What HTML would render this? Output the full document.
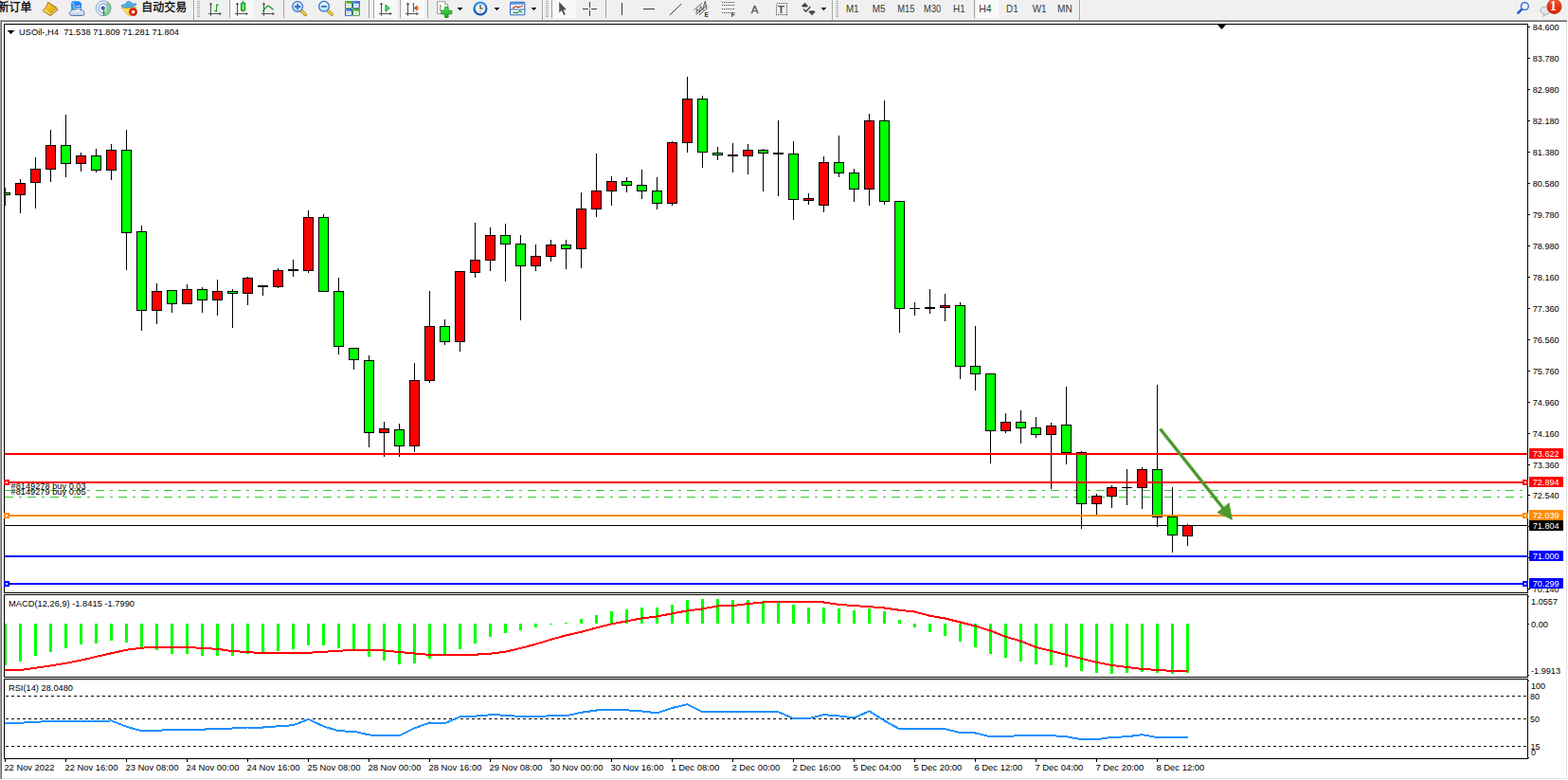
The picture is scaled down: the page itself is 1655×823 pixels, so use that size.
<!DOCTYPE html>
<html><head><meta charset="utf-8"><title>USOil H4</title>
<style>html,body{margin:0;padding:0;background:#fff;overflow:hidden}body{width:1655px;height:823px;position:relative;font-family:"Liberation Sans",sans-serif}</style>
</head><body>
<svg width="1655" height="823" viewBox="0 0 1655 823" style="position:absolute;left:0;top:0">
<defs><clipPath id="cm"><rect x="5" y="26" width="1607" height="599"/></clipPath><clipPath id="cd"><rect x="5" y="628" width="1607" height="86"/></clipPath><clipPath id="cr"><rect x="5" y="717" width="1607" height="83"/></clipPath></defs>
<rect x="0" y="0" width="1655" height="823" fill="#ffffff"/>
<rect x="0" y="0" width="1655" height="21" fill="#f0f0f0"/>
<rect x="0" y="20" width="1655" height="1" fill="#f5f5f5"/>
<g shape-rendering="crispEdges">
<rect x="0" y="21" width="1655" height="1" fill="#a0a0a0"/>
<rect x="0" y="21" width="1" height="802" fill="#a0a0a0"/>
<rect x="1" y="22" width="1654" height="1" fill="#696969"/>
<rect x="1" y="22" width="1" height="801" fill="#696969"/>
<rect x="2" y="821" width="1652" height="1" fill="#e3e3e3"/>
<rect x="1653" y="23" width="1" height="799" fill="#e3e3e3"/>
<rect x="1654" y="21" width="1" height="802" fill="#ffffff"/>
<rect x="0" y="822" width="1655" height="1" fill="#ffffff"/>
<rect x="4" y="25" width="1609" height="1" fill="#000"/>
<rect x="4" y="625" width="1609" height="1" fill="#000"/>
<rect x="4" y="25" width="1" height="601" fill="#000"/>
<rect x="4" y="627" width="1609" height="1" fill="#000"/>
<rect x="4" y="714" width="1609" height="1" fill="#000"/>
<rect x="4" y="627" width="1" height="88" fill="#000"/>
<rect x="4" y="716" width="1609" height="1" fill="#000"/>
<rect x="4" y="800" width="1609" height="1" fill="#000"/>
<rect x="4" y="716" width="1" height="85" fill="#000"/>
<rect x="1612" y="25" width="1" height="601" fill="#000"/>
<rect x="1612" y="627" width="1" height="88" fill="#000"/>
<rect x="1612" y="716" width="1" height="85" fill="#000"/>
<rect x="1613" y="28" width="2" height="1" fill="#000"/>
<rect x="1613" y="61" width="2" height="1" fill="#000"/>
<rect x="1613" y="94" width="2" height="1" fill="#000"/>
<rect x="1613" y="127" width="2" height="1" fill="#000"/>
<rect x="1613" y="160" width="2" height="1" fill="#000"/>
<rect x="1613" y="193" width="2" height="1" fill="#000"/>
<rect x="1613" y="226" width="2" height="1" fill="#000"/>
<rect x="1613" y="259" width="2" height="1" fill="#000"/>
<rect x="1613" y="292" width="2" height="1" fill="#000"/>
<rect x="1613" y="325" width="2" height="1" fill="#000"/>
<rect x="1613" y="358" width="2" height="1" fill="#000"/>
<rect x="1613" y="391" width="2" height="1" fill="#000"/>
<rect x="1613" y="424" width="2" height="1" fill="#000"/>
<rect x="1613" y="457" width="2" height="1" fill="#000"/>
<rect x="1613" y="490" width="2" height="1" fill="#000"/>
<rect x="1613" y="522" width="2" height="1" fill="#000"/>
<rect x="1613" y="555" width="2" height="1" fill="#000"/>
<rect x="1613" y="588" width="2" height="1" fill="#000"/>
<rect x="1613" y="621" width="2" height="1" fill="#000"/>
<rect x="1613" y="629" width="1" height="1" fill="#000"/>
<rect x="1613" y="658" width="1" height="1" fill="#000"/>
<rect x="1613" y="712" width="1" height="1" fill="#000"/>
<rect x="1613" y="718" width="1" height="1" fill="#000"/>
<rect x="1613" y="799" width="1" height="1" fill="#000"/>
<rect x="5" y="801" width="1" height="3" fill="#000"/>
<rect x="69" y="801" width="1" height="3" fill="#000"/>
<rect x="133" y="801" width="1" height="3" fill="#000"/>
<rect x="197" y="801" width="1" height="3" fill="#000"/>
<rect x="261" y="801" width="1" height="3" fill="#000"/>
<rect x="325" y="801" width="1" height="3" fill="#000"/>
<rect x="389" y="801" width="1" height="3" fill="#000"/>
<rect x="453" y="801" width="1" height="3" fill="#000"/>
<rect x="517" y="801" width="1" height="3" fill="#000"/>
<rect x="581" y="801" width="1" height="3" fill="#000"/>
<rect x="645" y="801" width="1" height="3" fill="#000"/>
<rect x="709" y="801" width="1" height="3" fill="#000"/>
<rect x="773" y="801" width="1" height="3" fill="#000"/>
<rect x="837" y="801" width="1" height="3" fill="#000"/>
<rect x="901" y="801" width="1" height="3" fill="#000"/>
<rect x="965" y="801" width="1" height="3" fill="#000"/>
<rect x="1029" y="801" width="1" height="3" fill="#000"/>
<rect x="1093" y="801" width="1" height="3" fill="#000"/>
<rect x="1157" y="801" width="1" height="3" fill="#000"/>
<rect x="1221" y="801" width="1" height="3" fill="#000"/>
</g>
<g clip-path="url(#cm)" shape-rendering="crispEdges">
<rect x="5" y="554" width="1607" height="1" fill="#000"/>
<line x1="5" y1="517.5" x2="1608" y2="517.5" stroke="#32cd32" stroke-width="1" stroke-dasharray="9 6 3 6"/>
<line x1="5" y1="524.5" x2="1608" y2="524.5" stroke="#32cd32" stroke-width="1" stroke-dasharray="9 6 3 6"/>
<rect x="5" y="198" width="1" height="19" fill="#000"/>
<rect x="0" y="203" width="11" height="3" fill="#000"/>
<rect x="1" y="204" width="9" height="1" fill="#00ff00"/>
<rect x="21" y="189" width="1" height="36" fill="#000"/>
<rect x="16" y="193" width="11" height="13" fill="#000"/>
<rect x="17" y="194" width="9" height="11" fill="#ff0000"/>
<rect x="37" y="166" width="1" height="54" fill="#000"/>
<rect x="32" y="178" width="11" height="15" fill="#000"/>
<rect x="33" y="179" width="9" height="13" fill="#ff0000"/>
<rect x="53" y="137" width="1" height="55" fill="#000"/>
<rect x="48" y="153" width="11" height="26" fill="#000"/>
<rect x="49" y="154" width="9" height="24" fill="#ff0000"/>
<rect x="69" y="121" width="1" height="66" fill="#000"/>
<rect x="64" y="153" width="11" height="20" fill="#000"/>
<rect x="65" y="154" width="9" height="18" fill="#00ff00"/>
<rect x="85" y="161" width="1" height="20" fill="#000"/>
<rect x="80" y="164" width="11" height="9" fill="#000"/>
<rect x="81" y="165" width="9" height="7" fill="#ff0000"/>
<rect x="101" y="157" width="1" height="25" fill="#000"/>
<rect x="96" y="164" width="11" height="16" fill="#000"/>
<rect x="97" y="165" width="9" height="14" fill="#00ff00"/>
<rect x="117" y="152" width="1" height="38" fill="#000"/>
<rect x="112" y="158" width="11" height="22" fill="#000"/>
<rect x="113" y="159" width="9" height="20" fill="#ff0000"/>
<rect x="133" y="137" width="1" height="148" fill="#000"/>
<rect x="128" y="158" width="11" height="88" fill="#000"/>
<rect x="129" y="159" width="9" height="86" fill="#00ff00"/>
<rect x="149" y="238" width="1" height="111" fill="#000"/>
<rect x="144" y="244" width="11" height="84" fill="#000"/>
<rect x="145" y="245" width="9" height="82" fill="#00ff00"/>
<rect x="165" y="299" width="1" height="43" fill="#000"/>
<rect x="160" y="307" width="11" height="21" fill="#000"/>
<rect x="161" y="308" width="9" height="19" fill="#ff0000"/>
<rect x="181" y="306" width="1" height="24" fill="#000"/>
<rect x="176" y="306" width="11" height="15" fill="#000"/>
<rect x="177" y="307" width="9" height="13" fill="#00ff00"/>
<rect x="197" y="300" width="1" height="21" fill="#000"/>
<rect x="192" y="305" width="11" height="16" fill="#000"/>
<rect x="193" y="306" width="9" height="14" fill="#ff0000"/>
<rect x="213" y="303" width="1" height="27" fill="#000"/>
<rect x="208" y="305" width="11" height="12" fill="#000"/>
<rect x="209" y="306" width="9" height="10" fill="#00ff00"/>
<rect x="229" y="295" width="1" height="38" fill="#000"/>
<rect x="224" y="307" width="11" height="10" fill="#000"/>
<rect x="225" y="308" width="9" height="8" fill="#ff0000"/>
<rect x="245" y="305" width="1" height="41" fill="#000"/>
<rect x="240" y="307" width="11" height="3" fill="#000"/>
<rect x="241" y="308" width="9" height="1" fill="#00ff00"/>
<rect x="261" y="292" width="1" height="30" fill="#000"/>
<rect x="256" y="293" width="11" height="17" fill="#000"/>
<rect x="257" y="294" width="9" height="15" fill="#ff0000"/>
<rect x="277" y="301" width="1" height="11" fill="#000"/>
<rect x="272" y="301" width="11" height="2" fill="#000"/>
<rect x="293" y="283" width="1" height="21" fill="#000"/>
<rect x="288" y="285" width="11" height="18" fill="#000"/>
<rect x="289" y="286" width="9" height="16" fill="#ff0000"/>
<rect x="309" y="274" width="1" height="18" fill="#000"/>
<rect x="304" y="284" width="11" height="2" fill="#000"/>
<rect x="325" y="222" width="1" height="66" fill="#000"/>
<rect x="320" y="229" width="11" height="57" fill="#000"/>
<rect x="321" y="230" width="9" height="55" fill="#ff0000"/>
<rect x="341" y="226" width="1" height="82" fill="#000"/>
<rect x="336" y="229" width="11" height="79" fill="#000"/>
<rect x="337" y="230" width="9" height="77" fill="#00ff00"/>
<rect x="357" y="293" width="1" height="81" fill="#000"/>
<rect x="352" y="307" width="11" height="59" fill="#000"/>
<rect x="353" y="308" width="9" height="57" fill="#00ff00"/>
<rect x="373" y="367" width="1" height="23" fill="#000"/>
<rect x="368" y="367" width="11" height="13" fill="#000"/>
<rect x="369" y="368" width="9" height="11" fill="#00ff00"/>
<rect x="389" y="375" width="1" height="97" fill="#000"/>
<rect x="384" y="380" width="11" height="77" fill="#000"/>
<rect x="385" y="381" width="9" height="75" fill="#00ff00"/>
<rect x="405" y="445" width="1" height="37" fill="#000"/>
<rect x="400" y="452" width="11" height="5" fill="#000"/>
<rect x="401" y="453" width="9" height="3" fill="#ff0000"/>
<rect x="421" y="447" width="1" height="35" fill="#000"/>
<rect x="416" y="453" width="11" height="18" fill="#000"/>
<rect x="417" y="454" width="9" height="16" fill="#00ff00"/>
<rect x="437" y="383" width="1" height="94" fill="#000"/>
<rect x="432" y="401" width="11" height="70" fill="#000"/>
<rect x="433" y="402" width="9" height="68" fill="#ff0000"/>
<rect x="453" y="307" width="1" height="97" fill="#000"/>
<rect x="448" y="344" width="11" height="58" fill="#000"/>
<rect x="449" y="345" width="9" height="56" fill="#ff0000"/>
<rect x="469" y="337" width="1" height="27" fill="#000"/>
<rect x="464" y="344" width="11" height="17" fill="#000"/>
<rect x="465" y="345" width="9" height="15" fill="#00ff00"/>
<rect x="485" y="286" width="1" height="85" fill="#000"/>
<rect x="480" y="286" width="11" height="75" fill="#000"/>
<rect x="481" y="287" width="9" height="73" fill="#ff0000"/>
<rect x="501" y="235" width="1" height="58" fill="#000"/>
<rect x="496" y="274" width="11" height="14" fill="#000"/>
<rect x="497" y="275" width="9" height="12" fill="#ff0000"/>
<rect x="517" y="240" width="1" height="46" fill="#000"/>
<rect x="512" y="248" width="11" height="27" fill="#000"/>
<rect x="513" y="249" width="9" height="25" fill="#ff0000"/>
<rect x="533" y="236" width="1" height="61" fill="#000"/>
<rect x="528" y="248" width="11" height="10" fill="#000"/>
<rect x="529" y="249" width="9" height="8" fill="#00ff00"/>
<rect x="549" y="248" width="1" height="90" fill="#000"/>
<rect x="544" y="257" width="11" height="24" fill="#000"/>
<rect x="545" y="258" width="9" height="22" fill="#00ff00"/>
<rect x="565" y="258" width="1" height="28" fill="#000"/>
<rect x="560" y="270" width="11" height="11" fill="#000"/>
<rect x="561" y="271" width="9" height="9" fill="#ff0000"/>
<rect x="581" y="253" width="1" height="23" fill="#000"/>
<rect x="576" y="258" width="11" height="13" fill="#000"/>
<rect x="577" y="259" width="9" height="11" fill="#ff0000"/>
<rect x="597" y="253" width="1" height="31" fill="#000"/>
<rect x="592" y="258" width="11" height="5" fill="#000"/>
<rect x="593" y="259" width="9" height="3" fill="#00ff00"/>
<rect x="613" y="203" width="1" height="80" fill="#000"/>
<rect x="608" y="220" width="11" height="43" fill="#000"/>
<rect x="609" y="221" width="9" height="41" fill="#ff0000"/>
<rect x="629" y="162" width="1" height="67" fill="#000"/>
<rect x="624" y="201" width="11" height="20" fill="#000"/>
<rect x="625" y="202" width="9" height="18" fill="#ff0000"/>
<rect x="645" y="186" width="1" height="31" fill="#000"/>
<rect x="640" y="191" width="11" height="11" fill="#000"/>
<rect x="641" y="192" width="9" height="9" fill="#ff0000"/>
<rect x="661" y="187" width="1" height="16" fill="#000"/>
<rect x="656" y="191" width="11" height="5" fill="#000"/>
<rect x="657" y="192" width="9" height="3" fill="#00ff00"/>
<rect x="677" y="179" width="1" height="31" fill="#000"/>
<rect x="672" y="195" width="11" height="7" fill="#000"/>
<rect x="673" y="196" width="9" height="5" fill="#00ff00"/>
<rect x="693" y="187" width="1" height="34" fill="#000"/>
<rect x="688" y="201" width="11" height="14" fill="#000"/>
<rect x="689" y="202" width="9" height="12" fill="#00ff00"/>
<rect x="709" y="149" width="1" height="68" fill="#000"/>
<rect x="704" y="150" width="11" height="65" fill="#000"/>
<rect x="705" y="151" width="9" height="63" fill="#ff0000"/>
<rect x="725" y="81" width="1" height="80" fill="#000"/>
<rect x="720" y="104" width="11" height="47" fill="#000"/>
<rect x="721" y="105" width="9" height="45" fill="#ff0000"/>
<rect x="741" y="101" width="1" height="76" fill="#000"/>
<rect x="736" y="104" width="11" height="57" fill="#000"/>
<rect x="737" y="105" width="9" height="55" fill="#00ff00"/>
<rect x="757" y="155" width="1" height="14" fill="#000"/>
<rect x="752" y="161" width="11" height="3" fill="#000"/>
<rect x="753" y="162" width="9" height="1" fill="#00ff00"/>
<rect x="773" y="151" width="1" height="31" fill="#000"/>
<rect x="768" y="163" width="11" height="2" fill="#000"/>
<rect x="789" y="152" width="1" height="32" fill="#000"/>
<rect x="784" y="158" width="11" height="7" fill="#000"/>
<rect x="785" y="159" width="9" height="5" fill="#ff0000"/>
<rect x="805" y="157" width="1" height="45" fill="#000"/>
<rect x="800" y="158" width="11" height="4" fill="#000"/>
<rect x="801" y="159" width="9" height="2" fill="#00ff00"/>
<rect x="821" y="127" width="1" height="80" fill="#000"/>
<rect x="816" y="161" width="11" height="2" fill="#000"/>
<rect x="837" y="149" width="1" height="83" fill="#000"/>
<rect x="832" y="162" width="11" height="49" fill="#000"/>
<rect x="833" y="163" width="9" height="47" fill="#00ff00"/>
<rect x="853" y="204" width="1" height="12" fill="#000"/>
<rect x="848" y="209" width="11" height="3" fill="#000"/>
<rect x="849" y="210" width="9" height="1" fill="#ff0000"/>
<rect x="869" y="165" width="1" height="59" fill="#000"/>
<rect x="864" y="171" width="11" height="46" fill="#000"/>
<rect x="865" y="172" width="9" height="44" fill="#ff0000"/>
<rect x="885" y="143" width="1" height="44" fill="#000"/>
<rect x="880" y="171" width="11" height="12" fill="#000"/>
<rect x="881" y="172" width="9" height="10" fill="#00ff00"/>
<rect x="901" y="178" width="1" height="35" fill="#000"/>
<rect x="896" y="182" width="11" height="18" fill="#000"/>
<rect x="897" y="183" width="9" height="16" fill="#00ff00"/>
<rect x="917" y="120" width="1" height="97" fill="#000"/>
<rect x="912" y="127" width="11" height="73" fill="#000"/>
<rect x="913" y="128" width="9" height="71" fill="#ff0000"/>
<rect x="933" y="106" width="1" height="110" fill="#000"/>
<rect x="928" y="127" width="11" height="86" fill="#000"/>
<rect x="929" y="128" width="9" height="84" fill="#00ff00"/>
<rect x="949" y="212" width="1" height="139" fill="#000"/>
<rect x="944" y="212" width="11" height="114" fill="#000"/>
<rect x="945" y="213" width="9" height="112" fill="#00ff00"/>
<rect x="965" y="319" width="1" height="14" fill="#000"/>
<rect x="960" y="325" width="11" height="1" fill="#000"/>
<rect x="981" y="305" width="1" height="26" fill="#000"/>
<rect x="976" y="324" width="11" height="2" fill="#000"/>
<rect x="997" y="310" width="1" height="29" fill="#000"/>
<rect x="992" y="322" width="11" height="3" fill="#000"/>
<rect x="993" y="323" width="9" height="1" fill="#ff0000"/>
<rect x="1013" y="319" width="1" height="81" fill="#000"/>
<rect x="1008" y="322" width="11" height="65" fill="#000"/>
<rect x="1009" y="323" width="9" height="63" fill="#00ff00"/>
<rect x="1029" y="344" width="1" height="68" fill="#000"/>
<rect x="1024" y="386" width="11" height="9" fill="#000"/>
<rect x="1025" y="387" width="9" height="7" fill="#00ff00"/>
<rect x="1045" y="394" width="1" height="95" fill="#000"/>
<rect x="1040" y="394" width="11" height="61" fill="#000"/>
<rect x="1041" y="395" width="9" height="59" fill="#00ff00"/>
<rect x="1061" y="436" width="1" height="21" fill="#000"/>
<rect x="1056" y="445" width="11" height="10" fill="#000"/>
<rect x="1057" y="446" width="9" height="8" fill="#ff0000"/>
<rect x="1077" y="433" width="1" height="35" fill="#000"/>
<rect x="1072" y="445" width="11" height="7" fill="#000"/>
<rect x="1073" y="446" width="9" height="5" fill="#00ff00"/>
<rect x="1093" y="440" width="1" height="22" fill="#000"/>
<rect x="1088" y="451" width="11" height="8" fill="#000"/>
<rect x="1089" y="452" width="9" height="6" fill="#00ff00"/>
<rect x="1109" y="446" width="1" height="70" fill="#000"/>
<rect x="1104" y="449" width="11" height="10" fill="#000"/>
<rect x="1105" y="450" width="9" height="8" fill="#ff0000"/>
<rect x="1125" y="408" width="1" height="82" fill="#000"/>
<rect x="1120" y="448" width="11" height="30" fill="#000"/>
<rect x="1121" y="449" width="9" height="28" fill="#00ff00"/>
<rect x="1141" y="476" width="1" height="82" fill="#000"/>
<rect x="1136" y="477" width="11" height="55" fill="#000"/>
<rect x="1137" y="478" width="9" height="53" fill="#00ff00"/>
<rect x="1157" y="521" width="1" height="22" fill="#000"/>
<rect x="1152" y="523" width="11" height="9" fill="#000"/>
<rect x="1153" y="524" width="9" height="7" fill="#ff0000"/>
<rect x="1173" y="512" width="1" height="24" fill="#000"/>
<rect x="1168" y="514" width="11" height="10" fill="#000"/>
<rect x="1169" y="515" width="9" height="8" fill="#ff0000"/>
<rect x="1189" y="495" width="1" height="38" fill="#000"/>
<rect x="1184" y="514" width="11" height="1" fill="#000"/>
<rect x="1205" y="493" width="1" height="44" fill="#000"/>
<rect x="1200" y="495" width="11" height="20" fill="#000"/>
<rect x="1201" y="496" width="9" height="18" fill="#ff0000"/>
<rect x="1221" y="406" width="1" height="150" fill="#000"/>
<rect x="1216" y="495" width="11" height="51" fill="#000"/>
<rect x="1217" y="496" width="9" height="49" fill="#00ff00"/>
<rect x="1237" y="514" width="1" height="69" fill="#000"/>
<rect x="1232" y="545" width="11" height="20" fill="#000"/>
<rect x="1233" y="546" width="9" height="18" fill="#00ff00"/>
<rect x="1253" y="553" width="1" height="23" fill="#000"/>
<rect x="1248" y="554" width="11" height="12" fill="#000"/>
<rect x="1249" y="555" width="9" height="10" fill="#ff0000"/>
<rect x="5" y="478" width="1607" height="2" fill="#ff0000"/>
<rect x="5" y="508" width="1607" height="2" fill="#ff0000"/>
<rect x="5" y="543" width="1607" height="2" fill="#ff8c00"/>
<rect x="5" y="586" width="1607" height="2" fill="#0000ff"/>
<rect x="5" y="615" width="1607" height="2" fill="#0000ff"/>
</g>
<g shape-rendering="crispEdges">
<rect x="4" y="506" width="6" height="6" fill="#ff0000"/><rect x="6" y="508" width="2" height="2" fill="#fff"/>
<rect x="1607" y="506" width="6" height="6" fill="#ff0000"/><rect x="1609" y="508" width="2" height="2" fill="#fff"/>
<rect x="4" y="541" width="6" height="6" fill="#ff8c00"/><rect x="6" y="543" width="2" height="2" fill="#fff"/>
<rect x="1607" y="541" width="6" height="6" fill="#ff8c00"/><rect x="1609" y="543" width="2" height="2" fill="#fff"/>
<rect x="4" y="613" width="6" height="6" fill="#0000ff"/><rect x="6" y="615" width="2" height="2" fill="#fff"/>
<rect x="1607" y="613" width="6" height="6" fill="#0000ff"/><rect x="1609" y="615" width="2" height="2" fill="#fff"/>
</g>
<g clip-path="url(#cm)">
<line x1="1224.5" y1="452.5" x2="1292" y2="537.5" stroke="#4e9a2e" stroke-width="3.4"/>
<polygon points="1301,549 1284.3,540.8 1297.5,530.2" fill="#4e9a2e"/>
</g>
<g font-family="Liberation Sans, sans-serif" font-size="9.7" fill="#000">
<text x="11.6" y="515.6" textLength="79" lengthAdjust="spacingAndGlyphs" xml:space="preserve">#8149278 buy 0.03</text>
<text x="11.6" y="522" textLength="79" lengthAdjust="spacingAndGlyphs" xml:space="preserve">#8149279 buy 0.05</text>
</g>
<polygon points="8,32 15,32 11.5,36" fill="#000" shape-rendering="crispEdges"/>
<g font-family="Liberation Sans, sans-serif" font-size="9.7" fill="#000"><text x="20" y="37" textLength="169" lengthAdjust="spacingAndGlyphs" xml:space="preserve">USOil-,H4  71.538 71.809 71.281 71.804</text></g>
<polygon points="1285,26 1294,26 1289.5,31" fill="#000"/>
<g clip-path="url(#cd)">
<g shape-rendering="crispEdges">
<rect x="4" y="658" width="3" height="44" fill="#00ff00"/>
<rect x="20" y="658" width="3" height="40" fill="#00ff00"/>
<rect x="36" y="658" width="3" height="34" fill="#00ff00"/>
<rect x="52" y="658" width="3" height="30" fill="#00ff00"/>
<rect x="68" y="658" width="3" height="26" fill="#00ff00"/>
<rect x="84" y="658" width="3" height="22" fill="#00ff00"/>
<rect x="100" y="658" width="3" height="21" fill="#00ff00"/>
<rect x="116" y="658" width="3" height="18" fill="#00ff00"/>
<rect x="132" y="658" width="3" height="20" fill="#00ff00"/>
<rect x="148" y="658" width="3" height="25" fill="#00ff00"/>
<rect x="164" y="658" width="3" height="28" fill="#00ff00"/>
<rect x="180" y="658" width="3" height="32" fill="#00ff00"/>
<rect x="196" y="658" width="3" height="32" fill="#00ff00"/>
<rect x="212" y="658" width="3" height="34" fill="#00ff00"/>
<rect x="228" y="658" width="3" height="34" fill="#00ff00"/>
<rect x="244" y="658" width="3" height="34" fill="#00ff00"/>
<rect x="260" y="658" width="3" height="32" fill="#00ff00"/>
<rect x="276" y="658" width="3" height="30" fill="#00ff00"/>
<rect x="292" y="658" width="3" height="29" fill="#00ff00"/>
<rect x="308" y="658" width="3" height="27" fill="#00ff00"/>
<rect x="324" y="658" width="3" height="23" fill="#00ff00"/>
<rect x="340" y="658" width="3" height="23" fill="#00ff00"/>
<rect x="356" y="658" width="3" height="26" fill="#00ff00"/>
<rect x="372" y="658" width="3" height="29" fill="#00ff00"/>
<rect x="388" y="658" width="3" height="35" fill="#00ff00"/>
<rect x="404" y="658" width="3" height="39" fill="#00ff00"/>
<rect x="420" y="658" width="3" height="43" fill="#00ff00"/>
<rect x="436" y="658" width="3" height="42" fill="#00ff00"/>
<rect x="452" y="658" width="3" height="37" fill="#00ff00"/>
<rect x="468" y="658" width="3" height="32" fill="#00ff00"/>
<rect x="484" y="658" width="3" height="27" fill="#00ff00"/>
<rect x="500" y="658" width="3" height="21" fill="#00ff00"/>
<rect x="516" y="658" width="3" height="14" fill="#00ff00"/>
<rect x="532" y="658" width="3" height="10" fill="#00ff00"/>
<rect x="548" y="658" width="3" height="7" fill="#00ff00"/>
<rect x="564" y="658" width="3" height="4" fill="#00ff00"/>
<rect x="580" y="658" width="3" height="1" fill="#00ff00"/>
<rect x="596" y="657" width="3" height="1" fill="#00ff00"/>
<rect x="612" y="653" width="3" height="5" fill="#00ff00"/>
<rect x="628" y="649" width="3" height="9" fill="#00ff00"/>
<rect x="644" y="645" width="3" height="13" fill="#00ff00"/>
<rect x="660" y="643" width="3" height="15" fill="#00ff00"/>
<rect x="676" y="641" width="3" height="17" fill="#00ff00"/>
<rect x="692" y="641" width="3" height="17" fill="#00ff00"/>
<rect x="708" y="638" width="3" height="20" fill="#00ff00"/>
<rect x="724" y="633" width="3" height="25" fill="#00ff00"/>
<rect x="740" y="632" width="3" height="26" fill="#00ff00"/>
<rect x="756" y="632" width="3" height="26" fill="#00ff00"/>
<rect x="772" y="633" width="3" height="25" fill="#00ff00"/>
<rect x="788" y="633" width="3" height="25" fill="#00ff00"/>
<rect x="804" y="634" width="3" height="24" fill="#00ff00"/>
<rect x="820" y="635" width="3" height="23" fill="#00ff00"/>
<rect x="836" y="638" width="3" height="20" fill="#00ff00"/>
<rect x="852" y="641" width="3" height="17" fill="#00ff00"/>
<rect x="868" y="641" width="3" height="17" fill="#00ff00"/>
<rect x="884" y="642" width="3" height="16" fill="#00ff00"/>
<rect x="900" y="644" width="3" height="14" fill="#00ff00"/>
<rect x="916" y="642" width="3" height="16" fill="#00ff00"/>
<rect x="932" y="645" width="3" height="13" fill="#00ff00"/>
<rect x="948" y="654" width="3" height="4" fill="#00ff00"/>
<rect x="964" y="658" width="3" height="4" fill="#00ff00"/>
<rect x="980" y="658" width="3" height="9" fill="#00ff00"/>
<rect x="996" y="658" width="3" height="13" fill="#00ff00"/>
<rect x="1012" y="658" width="3" height="19" fill="#00ff00"/>
<rect x="1028" y="658" width="3" height="25" fill="#00ff00"/>
<rect x="1044" y="658" width="3" height="32" fill="#00ff00"/>
<rect x="1060" y="658" width="3" height="36" fill="#00ff00"/>
<rect x="1076" y="658" width="3" height="40" fill="#00ff00"/>
<rect x="1092" y="658" width="3" height="43" fill="#00ff00"/>
<rect x="1108" y="658" width="3" height="44" fill="#00ff00"/>
<rect x="1124" y="658" width="3" height="46" fill="#00ff00"/>
<rect x="1140" y="658" width="3" height="50" fill="#00ff00"/>
<rect x="1156" y="658" width="3" height="52" fill="#00ff00"/>
<rect x="1172" y="658" width="3" height="53" fill="#00ff00"/>
<rect x="1188" y="658" width="3" height="52" fill="#00ff00"/>
<rect x="1204" y="658" width="3" height="51" fill="#00ff00"/>
<rect x="1220" y="658" width="3" height="52" fill="#00ff00"/>
<rect x="1236" y="658" width="3" height="53" fill="#00ff00"/>
<rect x="1252" y="658" width="3" height="52" fill="#00ff00"/>
</g>
<polyline points="5.5,707.5 21.5,707.1 37.5,704.7 53.5,702.4 69.5,699.8 85.5,696.7 101.5,692.9 117.5,689.3 133.5,685.7 149.5,683.7 165.5,682.6 181.5,682.6 197.5,683.0 213.5,683.9 229.5,684.8 245.5,687.1 261.5,688.0 277.5,689.3 293.5,689.3 309.5,689.3 325.5,688.8 341.5,687.8 357.5,686.8 373.5,685.8 389.5,685.5 405.5,686.5 421.5,688.0 437.5,689.5 453.5,690.9 469.5,690.9 485.5,690.9 501.5,690.7 517.5,689.7 533.5,687.7 549.5,683.9 565.5,679.7 581.5,674.8 597.5,670.4 613.5,666.8 629.5,662.4 645.5,658.4 661.5,655.4 677.5,652.4 693.5,650.4 709.5,647.4 725.5,644.4 741.5,642.4 757.5,639.5 773.5,639.1 789.5,637.1 805.5,635.5 821.5,634.5 837.5,634.5 853.5,634.5 869.5,635.5 885.5,637.9 901.5,639.1 917.5,640.1 933.5,641.5 949.5,643.8 965.5,645.5 981.5,649.8 997.5,652.5 1013.5,656.5 1029.5,660.5 1045.5,665.5 1061.5,671.8 1077.5,676.5 1093.5,682.9 1109.5,686.9 1125.5,690.9 1141.5,694.9 1157.5,698.9 1173.5,701.9 1189.5,703.9 1205.5,705.9 1221.5,706.9 1237.5,707.9 1253.5,708.3" fill="none" stroke="#ff0000" stroke-width="2" stroke-linejoin="round" shape-rendering="crispEdges"/>
</g>
<g font-family="Liberation Sans, sans-serif" font-size="9.7" fill="#000"><text x="9" y="640" textLength="133" lengthAdjust="spacingAndGlyphs" xml:space="preserve">MACD(12,26,9) -1.8415 -1.7990</text></g>
<g clip-path="url(#cr)">
<line x1="6" y1="734.5" x2="1612" y2="734.5" stroke="#000" stroke-width="1" stroke-dasharray="3 3" shape-rendering="crispEdges"/>
<line x1="6" y1="758.5" x2="1612" y2="758.5" stroke="#000" stroke-width="1" stroke-dasharray="3 3" shape-rendering="crispEdges"/>
<line x1="6" y1="787.5" x2="1612" y2="787.5" stroke="#000" stroke-width="1" stroke-dasharray="3 3" shape-rendering="crispEdges"/>
<polyline points="5.5,763.2 21.5,762.7 37.5,761.9 53.5,760.7 69.5,760.7 85.5,761.2 101.5,761.4 117.5,760.4 133.5,766.8 149.5,771.3 165.5,770.6 181.5,770.3 197.5,769.6 213.5,769.6 229.5,769.1 245.5,768.5 261.5,767.5 277.5,767.5 293.5,766.3 309.5,765.2 325.5,758.9 341.5,766.3 357.5,771.3 373.5,771.8 389.5,775.4 405.5,776.4 421.5,776.4 437.5,768.3 453.5,762.5 469.5,763.2 485.5,756.4 501.5,755.6 517.5,754.3 533.5,754.6 549.5,756.1 565.5,756.1 581.5,755.3 597.5,755.3 613.5,751.8 629.5,749.5 645.5,749.3 661.5,749.3 677.5,750.5 693.5,752.3 709.5,747.0 725.5,743.2 741.5,751.3 757.5,751.3 773.5,751.3 789.5,751.3 805.5,751.2 821.5,751.2 837.5,758.1 853.5,758.1 869.5,754.1 885.5,755.5 901.5,757.5 917.5,750.3 933.5,760.5 949.5,769.2 965.5,769.2 981.5,769.2 997.5,769.2 1013.5,773.2 1029.5,773.5 1045.5,777.3 1061.5,777.0 1077.5,776.1 1093.5,776.1 1109.5,776.1 1125.5,777.3 1141.5,780.2 1157.5,780.2 1173.5,777.9 1189.5,777.3 1205.5,775.2 1221.5,778.1 1237.5,778.1 1253.5,778.1" fill="none" stroke="#1e90ff" stroke-width="2" stroke-linejoin="round" shape-rendering="crispEdges"/>
</g>
<g font-family="Liberation Sans, sans-serif" font-size="9.7" fill="#000"><text x="9" y="729" textLength="68" lengthAdjust="spacingAndGlyphs" xml:space="preserve">RSI(14) 28.0480</text></g>
<g font-family="Liberation Sans, sans-serif" font-size="9.7" fill="#000">
<text x="1617.7" y="32" textLength="28" lengthAdjust="spacingAndGlyphs" xml:space="preserve">84.600</text>
<text x="1617.7" y="65" textLength="28" lengthAdjust="spacingAndGlyphs" xml:space="preserve">83.780</text>
<text x="1617.7" y="98" textLength="28" lengthAdjust="spacingAndGlyphs" xml:space="preserve">82.980</text>
<text x="1617.7" y="131" textLength="28" lengthAdjust="spacingAndGlyphs" xml:space="preserve">82.180</text>
<text x="1617.7" y="164" textLength="28" lengthAdjust="spacingAndGlyphs" xml:space="preserve">81.380</text>
<text x="1617.7" y="197" textLength="28" lengthAdjust="spacingAndGlyphs" xml:space="preserve">80.580</text>
<text x="1617.7" y="230" textLength="28" lengthAdjust="spacingAndGlyphs" xml:space="preserve">79.780</text>
<text x="1617.7" y="263" textLength="28" lengthAdjust="spacingAndGlyphs" xml:space="preserve">78.980</text>
<text x="1617.7" y="296" textLength="28" lengthAdjust="spacingAndGlyphs" xml:space="preserve">78.160</text>
<text x="1617.7" y="329" textLength="28" lengthAdjust="spacingAndGlyphs" xml:space="preserve">77.360</text>
<text x="1617.7" y="362" textLength="28" lengthAdjust="spacingAndGlyphs" xml:space="preserve">76.560</text>
<text x="1617.7" y="395" textLength="28" lengthAdjust="spacingAndGlyphs" xml:space="preserve">75.760</text>
<text x="1617.7" y="428" textLength="28" lengthAdjust="spacingAndGlyphs" xml:space="preserve">74.960</text>
<text x="1617.7" y="461" textLength="28" lengthAdjust="spacingAndGlyphs" xml:space="preserve">74.160</text>
<text x="1617.7" y="494" textLength="28" lengthAdjust="spacingAndGlyphs" xml:space="preserve">73.360</text>
<text x="1617.7" y="526" textLength="28" lengthAdjust="spacingAndGlyphs" xml:space="preserve">72.540</text>
<text x="1617.7" y="559" textLength="28" lengthAdjust="spacingAndGlyphs" xml:space="preserve">71.740</text>
<text x="1617.7" y="592" textLength="28" lengthAdjust="spacingAndGlyphs" xml:space="preserve">70.940</text>
<text x="1617.7" y="625" textLength="28" lengthAdjust="spacingAndGlyphs" xml:space="preserve">70.140</text>
<text x="1616" y="638" textLength="28" lengthAdjust="spacingAndGlyphs" xml:space="preserve">1.0557</text>
<text x="1616" y="662" textLength="18" lengthAdjust="spacingAndGlyphs" xml:space="preserve">0.00</text>
<text x="1616" y="711" textLength="31" lengthAdjust="spacingAndGlyphs" xml:space="preserve">-1.9913</text>
<text x="1616" y="727" textLength="15" lengthAdjust="spacingAndGlyphs" xml:space="preserve">100</text>
<text x="1615" y="738" textLength="10" lengthAdjust="spacingAndGlyphs" xml:space="preserve">80</text>
<text x="1615" y="762" textLength="10" lengthAdjust="spacingAndGlyphs" xml:space="preserve">50</text>
<text x="1615.5" y="791" textLength="10" lengthAdjust="spacingAndGlyphs" xml:space="preserve">15</text>
<text x="1616" y="797" textLength="5" lengthAdjust="spacingAndGlyphs" xml:space="preserve">0</text>
</g>
<g font-family="Liberation Sans, sans-serif" font-size="9.7" fill="#fff">
<rect x="1614" y="473" width="36" height="11" fill="#ff0000" shape-rendering="crispEdges"/>
<text x="1617.7" y="482" textLength="28" lengthAdjust="spacingAndGlyphs" xml:space="preserve">73.622</text>
<rect x="1614" y="503" width="36" height="11" fill="#ff0000" shape-rendering="crispEdges"/>
<text x="1617.7" y="512" textLength="28" lengthAdjust="spacingAndGlyphs" xml:space="preserve">72.894</text>
<rect x="1614" y="538" width="36" height="11" fill="#ff8c00" shape-rendering="crispEdges"/>
<text x="1617.7" y="547" textLength="28" lengthAdjust="spacingAndGlyphs" xml:space="preserve">72.039</text>
<rect x="1614" y="549" width="36" height="11" fill="#000000" shape-rendering="crispEdges"/>
<text x="1617.7" y="558" textLength="28" lengthAdjust="spacingAndGlyphs" xml:space="preserve">71.804</text>
<rect x="1614" y="581" width="36" height="11" fill="#0000ff" shape-rendering="crispEdges"/>
<text x="1617.7" y="590" textLength="28" lengthAdjust="spacingAndGlyphs" xml:space="preserve">71.000</text>
<rect x="1614" y="610" width="36" height="11" fill="#0000ff" shape-rendering="crispEdges"/>
<text x="1617.7" y="619" textLength="28" lengthAdjust="spacingAndGlyphs" xml:space="preserve">70.299</text>
</g>
<g font-family="Liberation Sans, sans-serif" font-size="9.7" fill="#000">
<text x="4.4" y="813" textLength="53" lengthAdjust="spacingAndGlyphs" xml:space="preserve">22 Nov 2022</text>
<text x="68.4" y="813" textLength="56" lengthAdjust="spacingAndGlyphs" xml:space="preserve">22 Nov 16:00</text>
<text x="132.4" y="813" textLength="56" lengthAdjust="spacingAndGlyphs" xml:space="preserve">23 Nov 08:00</text>
<text x="196.4" y="813" textLength="56" lengthAdjust="spacingAndGlyphs" xml:space="preserve">24 Nov 00:00</text>
<text x="260.4" y="813" textLength="56" lengthAdjust="spacingAndGlyphs" xml:space="preserve">24 Nov 16:00</text>
<text x="324.4" y="813" textLength="56" lengthAdjust="spacingAndGlyphs" xml:space="preserve">25 Nov 08:00</text>
<text x="388.4" y="813" textLength="56" lengthAdjust="spacingAndGlyphs" xml:space="preserve">28 Nov 00:00</text>
<text x="452.4" y="813" textLength="56" lengthAdjust="spacingAndGlyphs" xml:space="preserve">28 Nov 16:00</text>
<text x="516.4" y="813" textLength="56" lengthAdjust="spacingAndGlyphs" xml:space="preserve">29 Nov 08:00</text>
<text x="580.4" y="813" textLength="56" lengthAdjust="spacingAndGlyphs" xml:space="preserve">30 Nov 00:00</text>
<text x="644.4" y="813" textLength="56" lengthAdjust="spacingAndGlyphs" xml:space="preserve">30 Nov 16:00</text>
<text x="708.4" y="813" textLength="51" lengthAdjust="spacingAndGlyphs" xml:space="preserve">1 Dec 08:00</text>
<text x="772.4" y="813" textLength="51" lengthAdjust="spacingAndGlyphs" xml:space="preserve">2 Dec 00:00</text>
<text x="836.4" y="813" textLength="51" lengthAdjust="spacingAndGlyphs" xml:space="preserve">2 Dec 16:00</text>
<text x="900.4" y="813" textLength="51" lengthAdjust="spacingAndGlyphs" xml:space="preserve">5 Dec 04:00</text>
<text x="964.4" y="813" textLength="51" lengthAdjust="spacingAndGlyphs" xml:space="preserve">5 Dec 20:00</text>
<text x="1028.4" y="813" textLength="51" lengthAdjust="spacingAndGlyphs" xml:space="preserve">6 Dec 12:00</text>
<text x="1092.4" y="813" textLength="51" lengthAdjust="spacingAndGlyphs" xml:space="preserve">7 Dec 04:00</text>
<text x="1156.4" y="813" textLength="51" lengthAdjust="spacingAndGlyphs" xml:space="preserve">7 Dec 20:00</text>
<text x="1220.4" y="813" textLength="51" lengthAdjust="spacingAndGlyphs" xml:space="preserve">8 Dec 12:00</text>
</g>
<g id="toolbar"><defs><linearGradient id="gBook" x1="0" y1="0" x2="1" y2="1"><stop offset="0" stop-color="#fbe36a"/><stop offset="0.5" stop-color="#e9b91c"/><stop offset="1" stop-color="#c8901a"/></linearGradient><linearGradient id="gBlue" x1="0" y1="0" x2="0" y2="1"><stop offset="0" stop-color="#4aa8f8"/><stop offset="1" stop-color="#1060d8"/></linearGradient><linearGradient id="gCloud" x1="0" y1="0" x2="0" y2="1"><stop offset="0" stop-color="#ffffff"/><stop offset="1" stop-color="#b8c8e4"/></linearGradient><linearGradient id="gGreen" x1="0" y1="0" x2="1" y2="0"><stop offset="0" stop-color="#10c020"/><stop offset="0.5" stop-color="#70ff70"/><stop offset="1" stop-color="#10c020"/></linearGradient><linearGradient id="gRed" x1="0" y1="0" x2="0" y2="1"><stop offset="0" stop-color="#e85838"/><stop offset="1" stop-color="#d41c00"/></linearGradient><linearGradient id="gLens" x1="0" y1="0" x2="0" y2="1"><stop offset="0" stop-color="#f4faff"/><stop offset="1" stop-color="#b8dcf8"/></linearGradient><linearGradient id="gClock" x1="0" y1="0" x2="0" y2="1"><stop offset="0" stop-color="#3c9cf0"/><stop offset="1" stop-color="#0c50b0"/></linearGradient><linearGradient id="gPlus" x1="0" y1="0" x2="0" y2="1"><stop offset="0" stop-color="#58e858"/><stop offset="1" stop-color="#10a818"/></linearGradient><linearGradient id="gGold" x1="0" y1="0" x2="1" y2="0"><stop offset="0" stop-color="#f0d860"/><stop offset="1" stop-color="#c89818"/></linearGradient></defs>
<rect x="243" y="0" width="25" height="19" fill="#f9f9f9"/>
<rect x="395" y="0" width="24" height="19" fill="#f9f9f9"/>
<rect x="423" y="0" width="25" height="19" fill="#f9f9f9"/>
<rect x="583" y="0" width="25" height="19" fill="#f9f9f9"/>
<rect x="1030" y="0" width="24" height="19" fill="#f9f9f9"/>
<g shape-rendering="crispEdges">
<rect x="204" y="0" width="1" height="21" fill="#a0a0a0"/><rect x="205" y="0" width="1" height="21" fill="#ffffff"/>
<rect x="572" y="0" width="1" height="21" fill="#a0a0a0"/><rect x="573" y="0" width="1" height="21" fill="#ffffff"/>
<rect x="878" y="0" width="1" height="21" fill="#a0a0a0"/><rect x="879" y="0" width="1" height="21" fill="#ffffff"/>
<rect x="1139" y="0" width="1" height="21" fill="#a0a0a0"/><rect x="1140" y="0" width="1" height="21" fill="#ffffff"/>
<rect x="242" y="0" width="1" height="19" fill="#a0a0a0"/>
<rect x="299" y="0" width="1" height="19" fill="#a0a0a0"/>
<rect x="389" y="0" width="1" height="19" fill="#a0a0a0"/>
<rect x="394" y="0" width="1" height="19" fill="#a0a0a0"/>
<rect x="422" y="0" width="1" height="19" fill="#a0a0a0"/>
<rect x="451" y="0" width="1" height="19" fill="#a0a0a0"/>
<rect x="582" y="0" width="1" height="19" fill="#a0a0a0"/>
<rect x="639" y="0" width="1" height="19" fill="#a0a0a0"/>
<rect x="1028" y="0" width="1" height="19" fill="#a0a0a0"/>
<rect x="208" y="1" width="3" height="1" fill="#b0b0b0"/>
<rect x="208" y="3" width="3" height="1" fill="#b0b0b0"/>
<rect x="208" y="5" width="3" height="1" fill="#b0b0b0"/>
<rect x="208" y="7" width="3" height="1" fill="#b0b0b0"/>
<rect x="208" y="9" width="3" height="1" fill="#b0b0b0"/>
<rect x="208" y="11" width="3" height="1" fill="#b0b0b0"/>
<rect x="208" y="13" width="3" height="1" fill="#b0b0b0"/>
<rect x="208" y="15" width="3" height="1" fill="#b0b0b0"/>
<rect x="208" y="17" width="3" height="1" fill="#b0b0b0"/>
<rect x="576" y="1" width="3" height="1" fill="#b0b0b0"/>
<rect x="576" y="3" width="3" height="1" fill="#b0b0b0"/>
<rect x="576" y="5" width="3" height="1" fill="#b0b0b0"/>
<rect x="576" y="7" width="3" height="1" fill="#b0b0b0"/>
<rect x="576" y="9" width="3" height="1" fill="#b0b0b0"/>
<rect x="576" y="11" width="3" height="1" fill="#b0b0b0"/>
<rect x="576" y="13" width="3" height="1" fill="#b0b0b0"/>
<rect x="576" y="15" width="3" height="1" fill="#b0b0b0"/>
<rect x="576" y="17" width="3" height="1" fill="#b0b0b0"/>
<rect x="882" y="1" width="3" height="1" fill="#b0b0b0"/>
<rect x="882" y="3" width="3" height="1" fill="#b0b0b0"/>
<rect x="882" y="5" width="3" height="1" fill="#b0b0b0"/>
<rect x="882" y="7" width="3" height="1" fill="#b0b0b0"/>
<rect x="882" y="9" width="3" height="1" fill="#b0b0b0"/>
<rect x="882" y="11" width="3" height="1" fill="#b0b0b0"/>
<rect x="882" y="13" width="3" height="1" fill="#b0b0b0"/>
<rect x="882" y="15" width="3" height="1" fill="#b0b0b0"/>
<rect x="882" y="17" width="3" height="1" fill="#b0b0b0"/>
</g>
<text x="-2.5" y="12.3" font-family="Liberation Sans, Noto Sans CJK SC, sans-serif" font-size="12" fill="#000" stroke="#000" stroke-width="0.26" textLength="36" lengthAdjust="spacingAndGlyphs">新订单</text>
<path d="M50.6,2.2 L59.6,8 L60.9,10.6 L53,16.6 L45,11 C47.6,9.4 49.6,6.4 50.6,2.2 Z" fill="url(#gBook)" stroke="#a86808" stroke-width="0.9" stroke-linejoin="round"/>
<path d="M59.5,8.8 L60.5,10.6 L53.3,16 L53.5,14.4 Z" fill="#e4d49c" stroke="#a87818" stroke-width="0.5"/>
<path d="M46.2,10.6 L53.4,14.8" fill="none" stroke="#fdeea0" stroke-width="1.3" opacity="0.95"/>
<path d="M45.6,11.6 L52.9,16" fill="none" stroke="#c08818" stroke-width="0.9"/>
<path d="M51.2,3.4 L59,8.4" fill="none" stroke="#b47a10" stroke-width="0.6"/>
<path d="M75.3,2.6 L76.6,1.3 L83.4,1.3 L86,3.4 L86,10.4 L75.3,10.4 Z" fill="#1c8cf4"/>
<path d="M75.3,2.6 L78.2,3.8 L78.2,10.4 L75.3,10.4 Z" fill="#0c9cf8"/>
<path d="M78.7,3.9 L86,3.5 L86,10.4 L78.7,10.4 Z" fill="#2a78f0"/>
<path d="M75.3,2.6 L78.2,3.9 L78.2,10.2" stroke="#e8f8ff" stroke-width="0.7" fill="none"/>
<path d="M79.8,6.4 L84.8,5.4 L84.8,6.4 L79.8,7.2 Z" fill="#eaf6ff"/>
<rect x="79.6" y="8.3" width="5.6" height="2" fill="#e4f0ff"/>
<path d="M76.2,16.5 C72.6,16.5 72.2,12.2 75.6,11.6 C76,9.8 78.8,9.6 79.6,10.6 C80.6,8.6 84.2,8.6 85,10.9 C86.6,10 89,11.4 88.4,13 C90,14.2 89,16.5 86.8,16.5 Z" fill="url(#gCloud)" stroke="#4a68a4" stroke-width="0.9"/>
<defs><clipPath id="sigR"><path d="M109.1,8.8 L109.1,18 L120,18 L120,0 L113,0 Z"/></clipPath><clipPath id="sigL"><path d="M109.1,8.8 L109.1,18 L98,18 L98,0 L113,0 Z"/></clipPath><radialGradient id="gSweep" cx="109.1" cy="8.8" r="8.4" gradientUnits="userSpaceOnUse"><stop offset="0" stop-color="#a8d8a8" stop-opacity="0.2"/><stop offset="1" stop-color="#58b068" stop-opacity="0.75"/></radialGradient></defs>
<path d="M109.1,8.8 L109.1,17 A8.2,8.2 0 0 0 113.4,1.8 Z" fill="url(#gSweep)"/>
<g clip-path="url(#sigL)" fill="none" stroke="#3c68d8" opacity="0.75"><circle cx="109.1" cy="8.8" r="7.8" stroke-width="0.8"/><circle cx="109.1" cy="8.8" r="5" stroke-width="0.9"/></g>
<g clip-path="url(#sigR)" fill="none" stroke="#4c9c78" opacity="0.8"><circle cx="109.1" cy="8.8" r="7.8" stroke-width="0.9"/><circle cx="109.1" cy="8.8" r="5" stroke-width="0.9"/></g>
<circle cx="108.7" cy="8.4" r="2" fill="#2c5cd8"/>
<path d="M109.5,8.8 L109.5,16.7" fill="none" stroke="#18a020" stroke-width="1.3"/>
<path d="M128.3,8.2 L143.9,7.6 L137.4,16 L135.6,16.6 Z" fill="#f8e058" stroke="#d8a818" stroke-width="0.7" stroke-linejoin="round"/>
<path d="M128,6.6 C129,3.6 132,5.6 132.6,4.6 C133,0.6 138.6,0.6 139,3.8 C140.6,4.6 143,2.6 144,4.6 C142,8.2 131,9.4 128,6.6 Z" fill="#5cb0e4" stroke="#2484b0" stroke-width="0.7"/>
<path d="M132.6,4.8 C134,6.2 137.6,5.8 139,4" fill="none" stroke="#2c88bc" stroke-width="0.6"/>
<circle cx="140.5" cy="12.6" r="4.1" fill="#dc2400" stroke="#b81800" stroke-width="0.5"/>
<rect x="139" y="11.1" width="3.1" height="3" fill="#fff"/>
<text x="149.2" y="12.3" font-family="Liberation Sans, Noto Sans CJK SC, sans-serif" font-size="12" fill="#000" stroke="#000" stroke-width="0.26" textLength="48" lengthAdjust="spacingAndGlyphs">自动交易</text>
<path d="M222.5,3.4 L222.5,16.8 M220,14.5 L232.6,14.5" stroke="#505050" stroke-width="1" fill="none"/>
<path d="M222.5,2.6 L224.2,5 L220.8,5 Z M233.9,14.5 L231.6,12.8 L231.6,16.2 Z" fill="#505050"/>
<path d="M228.6,4.4 L228.6,12.6 M228.4,5.3 L231,5.3 M226,11.7 L228.8,11.7" stroke="#089820" stroke-width="1.05" fill="none"/>
<path d="M250.5,3.4 L250.5,16.8 M248,14.5 L260.6,14.5" stroke="#505050" stroke-width="1" fill="none"/>
<path d="M250.5,2.6 L252.2,5 L248.8,5 Z M261.9,14.5 L259.6,12.8 L259.6,16.2 Z" fill="#505050"/>
<path d="M256.5,1 L256.5,12.8" stroke="#087818" stroke-width="1.1"/>
<rect x="254.4" y="3.2" width="4.4" height="7.8" fill="url(#gGreen)" stroke="#087818" stroke-width="0.8"/>
<path d="M278.5,3.4 L278.5,16.8 M276,14.5 L288.6,14.5" stroke="#505050" stroke-width="1" fill="none"/>
<path d="M278.5,2.6 L280.2,5 L276.8,5 Z M289.9,14.5 L287.6,12.8 L287.6,16.2 Z" fill="#505050"/>
<path d="M277.2,11.8 C279.5,10.5 281,6.2 283.2,6.2 C285,6.2 286.5,9.6 288.8,10.2" stroke="#189828" stroke-width="1.2" fill="none"/>
<path d="M317.90000000000003,11.2 L322.40000000000003,15.4" stroke="#b08810" stroke-width="3.4" stroke-linecap="round"/>
<path d="M317.90000000000003,11.2 L322.20000000000005,15.2" stroke="#ecd048" stroke-width="2" stroke-linecap="round"/>
<circle cx="314.1" cy="7" r="5.4" fill="url(#gLens)" stroke="#2c6cc4" stroke-width="1.2"/>
<path d="M310.90000000000003,7 L317.3,7 M314.1,3.8 L314.1,10.2" stroke="#2c74c0" stroke-width="1.8"/>
<path d="M345.8,11.0 L350.3,15.2" stroke="#b08810" stroke-width="3.4" stroke-linecap="round"/>
<path d="M345.8,11.0 L350.1,15.0" stroke="#ecd048" stroke-width="2" stroke-linecap="round"/>
<circle cx="342" cy="6.8" r="5.4" fill="url(#gLens)" stroke="#2c6cc4" stroke-width="1.2"/>
<path d="M339,6.8 L345,6.8" stroke="#2c78b8" stroke-width="1.8"/>
<rect x="364" y="1" width="7.8" height="7.8" rx="0.8" fill="#2c9010"/>
<rect x="364" y="1" width="7.8" height="3" rx="0.8" fill="#4cb028"/>
<rect x="365" y="3.8" width="5.8" height="4.2" rx="0.6" fill="#fff"/>
<rect x="366" y="5.2" width="3.8" height="1" fill="#4cb028" opacity="0.55"/>
<rect x="365" y="2" width="1" height="1" fill="#fff" opacity="0.8"/>
<rect x="372" y="1" width="7.8" height="7.8" rx="0.8" fill="#1440c0"/>
<rect x="372" y="1" width="7.8" height="3" rx="0.8" fill="#3c70e8"/>
<rect x="373" y="3.8" width="5.8" height="4.2" rx="0.6" fill="#fff"/>
<rect x="374" y="5.2" width="3.8" height="1" fill="#3c70e8" opacity="0.55"/>
<rect x="373" y="2" width="1" height="1" fill="#fff" opacity="0.8"/>
<rect x="364" y="9" width="7.8" height="7.8" rx="0.8" fill="#1440c0"/>
<rect x="364" y="9" width="7.8" height="3" rx="0.8" fill="#3c70e8"/>
<rect x="365" y="11.8" width="5.8" height="4.2" rx="0.6" fill="#fff"/>
<rect x="366" y="13.2" width="3.8" height="1" fill="#3c70e8" opacity="0.55"/>
<rect x="365" y="10" width="1" height="1" fill="#fff" opacity="0.8"/>
<rect x="372" y="9" width="7.8" height="7.8" rx="0.8" fill="#2c9010"/>
<rect x="372" y="9" width="7.8" height="3" rx="0.8" fill="#4cb028"/>
<rect x="373" y="11.8" width="5.8" height="4.2" rx="0.6" fill="#fff"/>
<rect x="374" y="13.2" width="3.8" height="1" fill="#4cb028" opacity="0.55"/>
<rect x="373" y="10" width="1" height="1" fill="#fff" opacity="0.8"/>
<path d="M402.5,3.4 L402.5,16.8 M400,14.5 L412.6,14.5" stroke="#505050" stroke-width="1" fill="none"/>
<path d="M402.5,2.6 L404.2,5 L400.8,5 Z M413.9,14.5 L411.6,12.8 L411.6,16.2 Z" fill="#505050"/>
<path d="M407,5.2 L411.2,8.6 L407,12.2 Z" fill="#58e060" stroke="#109818" stroke-width="1"/>
<path d="M430.5,3.4 L430.5,16.8 M428,14.5 L440.6,14.5" stroke="#505050" stroke-width="1" fill="none"/>
<path d="M430.5,2.6 L432.2,5 L428.8,5 Z M441.9,14.5 L439.6,12.8 L439.6,16.2 Z" fill="#505050"/>
<path d="M436.5,3 L436.5,12.8" stroke="#1878a8" stroke-width="1.2"/>
<path d="M437.4,8.5 L442.2,8.5 M437.4,8.5 L440.4,6 L439.6,8.5 L440.4,11 Z" stroke="#d84808" stroke-width="0.9" fill="#d84808"/>
<path d="M461.6,1.6 L469.6,1.6 L472.6,4.6 L472.6,14.4 L461.6,14.4 Z" fill="#fbfbfb" stroke="#8c8c8c" stroke-width="0.9"/>
<path d="M469.6,1.6 L469.6,4.6 L472.6,4.6" fill="#e0e0e0" stroke="#8c8c8c" stroke-width="0.7"/>
<path d="M464.8,5 L464.8,12 M464,6.4 L466,6.4 M464,10.6 L465.6,10.6" stroke="#807868" stroke-width="0.8" fill="none"/>
<path d="M469.5,7.6 L473.1,7.6 L473.1,11.2 L476.8,11.2 L476.8,14.8 L473.1,14.8 L473.1,18.4 L469.5,18.4 L469.5,14.8 L465.8,14.8 L465.8,11.2 L469.5,11.2 Z" fill="url(#gPlus)" stroke="#0c8814" stroke-width="0.8"/>
<g shape-rendering="crispEdges" fill="#000"><rect x="483" y="8" width="5" height="1"/><rect x="484" y="9" width="3" height="1"/><rect x="485" y="10" width="1" height="1"/></g>
<circle cx="507" cy="9" r="7.6" fill="url(#gClock)"/>
<circle cx="507" cy="9" r="5.2" fill="#f0f0f0"/>
<path d="M507,5 L507,9 L509.6,9" stroke="#303030" stroke-width="1.1" fill="none"/>
<circle cx="507" cy="12.2" r="0.7" fill="#80a8e0"/>
<g shape-rendering="crispEdges" fill="#000"><rect x="522" y="8" width="5" height="1"/><rect x="523" y="9" width="3" height="1"/><rect x="524" y="10" width="1" height="1"/></g>
<rect x="538.6" y="2.4" width="15.2" height="13.4" rx="1" fill="#ffffff" stroke="#2c68c0" stroke-width="1.1"/>
<rect x="539" y="2.6" width="14.4" height="2.2" fill="#5c9cec"/>
<path d="M539,10 L553.6,10" stroke="#2c68c0" stroke-width="1"/>
<path d="M540.6,8.4 L542.4,8.2 L544.4,6.6 L546.4,7.6 L548.4,7.4 L551.8,6.2" stroke="#a82808" stroke-width="1.1" fill="none"/>
<path d="M541.4,13.6 L543.6,13 L545.6,13.8 L549,11.4 L551.4,13.6" stroke="#08882c" stroke-width="1.1" fill="none"/>
<g shape-rendering="crispEdges" fill="#000"><rect x="561" y="8" width="5" height="1"/><rect x="562" y="9" width="3" height="1"/><rect x="563" y="10" width="1" height="1"/></g>
<path d="M590.2,2 L590.2,13.4 L592.8,11 L595.2,16 L596.8,15.2 L594.6,10.4 L598,10.2 Z" fill="#505050"/>
<path d="M622.5,2 L622.5,8 M622.5,11 L622.5,17 M615,9.5 L621,9.5 M624,9.5 L630,9.5" stroke="#404040" stroke-width="1" shape-rendering="crispEdges"/>
<rect x="622" y="9" width="1" height="1" fill="#808080"/>
<path d="M656.5,3 L656.5,16 M679,9.5 L691,9.5" stroke="#404040" stroke-width="1" shape-rendering="crispEdges"/>
<path d="M706.8,16 L719.2,4.2" stroke="#404040" stroke-width="1"/>
<path d="M732.6,10.6 L741,3.2 M734.6,15.6 L746.4,5.4 M738,15.8 L747,8" stroke="#484848" stroke-width="0.9" fill="none"/>
<path d="M734.8,14 L735.8,9.6 L738.2,12.6 L739.6,6.6 L741.8,10.6 L743.4,4 L744.4,1.2 L745.4,8.2" stroke="#484848" stroke-width="0.9" fill="none"/>
<text x="743.6" y="17.7" font-family="Liberation Sans, sans-serif" font-size="6.4" font-weight="bold" fill="#303030">E</text>
<path d="M762,2.5 L775,2.5" stroke="#404040" stroke-width="1" stroke-dasharray="1 1" shape-rendering="crispEdges"/>
<path d="M762,5.5 L775,5.5" stroke="#404040" stroke-width="1" stroke-dasharray="1 1" shape-rendering="crispEdges"/>
<path d="M762,9.5 L775,9.5" stroke="#404040" stroke-width="1" stroke-dasharray="1 1" shape-rendering="crispEdges"/>
<path d="M762,13.5 L771,13.5" stroke="#404040" stroke-width="1" stroke-dasharray="1 1" shape-rendering="crispEdges"/>
<text x="771.8" y="17.7" font-family="Liberation Sans, sans-serif" font-size="6.4" font-weight="bold" fill="#303030">F</text>
<text x="792.7" y="13.9" font-family="Liberation Sans, sans-serif" font-size="11.4" fill="#585858" stroke="#585858" stroke-width="0.35">A</text>
<rect x="819.5" y="3.5" width="11" height="12" fill="none" stroke="#404040" stroke-width="1" stroke-dasharray="1 1" shape-rendering="crispEdges"/>
<text x="821.1" y="14" font-family="Liberation Sans, sans-serif" font-size="11.2" font-weight="bold" fill="#505050">T</text>
<path d="M849.5,2.8 L853.2,6.6 L851.4,7.6 L847.6,7.6 L845.8,6.6 Z M857,16.2 L860.7,12.2 L858.8,11.2 L855.2,11.2 L853.3,12.2 Z" fill="#484848"/>
<path d="M848.2,9.6 L850.6,12.2 L855.4,7" stroke="#484848" stroke-width="1.5" fill="none"/>
<g shape-rendering="crispEdges" fill="#000"><rect x="867" y="8" width="5" height="1"/><rect x="868" y="9" width="3" height="1"/><rect x="869" y="10" width="1" height="1"/></g>
<g font-family="Liberation Sans, sans-serif" font-size="10.2" fill="#383838">
<text x="892.9" y="13" textLength="13.7" lengthAdjust="spacingAndGlyphs">M1</text>
<text x="920.8" y="13" textLength="13.7" lengthAdjust="spacingAndGlyphs">M5</text>
<text x="947.1999999999999" y="13" textLength="18.2" lengthAdjust="spacingAndGlyphs">M15</text>
<text x="975.1" y="13" textLength="18.2" lengthAdjust="spacingAndGlyphs">M30</text>
<text x="1006.0" y="13" textLength="12.7" lengthAdjust="spacingAndGlyphs">H1</text>
<text x="1033.2" y="13" textLength="13.3" lengthAdjust="spacingAndGlyphs">H4</text>
<text x="1062.1000000000001" y="13" textLength="12.6" lengthAdjust="spacingAndGlyphs">D1</text>
<text x="1089.7" y="13" textLength="14.9" lengthAdjust="spacingAndGlyphs">W1</text>
<text x="1116.1000000000001" y="13" textLength="15.7" lengthAdjust="spacingAndGlyphs">MN</text>
</g>
<path d="M1606.6,9.4 L1602.4,13.6" stroke="#2858cc" stroke-width="2.6" stroke-linecap="round"/>
<circle cx="1609.4" cy="6.5" r="3.9" fill="#f4f4ff" stroke="#2c5cd4" stroke-width="1.3"/>
<path d="M1629,17.4 L1629.8,14.8 C1624,13.6 1625,7 1631.6,7 C1638.2,7 1639,14.2 1632,15.2 Z" fill="#e4e4ec" stroke="#a0a0a0" stroke-width="0.8"/>
<circle cx="1640.5" cy="6.9" r="8" fill="url(#gRed)"/>
<text x="1636.1" y="11.1" font-family="Liberation Serif, serif" font-size="13.6" font-weight="bold" fill="#fff">1</text></g>
</svg>
</body></html>
